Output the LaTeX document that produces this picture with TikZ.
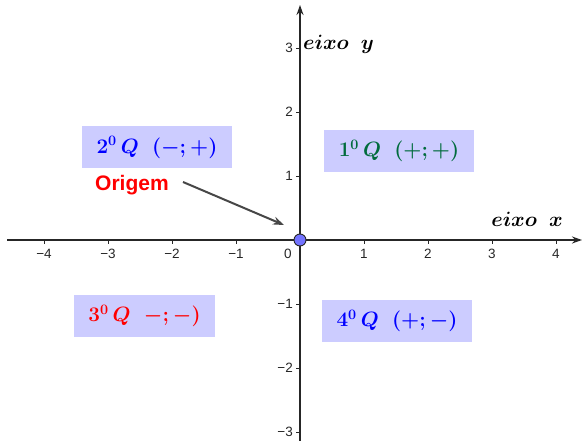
\documentclass[tikz,border=0pt]{standalone}
\usepackage{fontspec}
\setsansfont{Liberation Sans}
\usetikzlibrary{arrows.meta}
\definecolor{boxfill}{HTML}{CCCCFF}
\definecolor{qgreen}{HTML}{006B3C}
\definecolor{qblue}{HTML}{0000FF}
\definecolor{qred}{HTML}{FF0000}
\definecolor{axisgray}{HTML}{262626}
\begin{document}
\begin{tikzpicture}[x=1pt,y=-1pt,
  quadbox/.style={fill=boxfill, inner sep=0pt, minimum height=42pt, anchor=center, font=\fontsize{22}{25}\selectfont\boldmath},
  ticklab/.style={font=\sffamily\fontsize{13.5}{15}\selectfont, text=axisgray, inner sep=1pt},
  axislab/.style={font=\fontsize{20}{24}\selectfont\boldmath, inner sep=0pt}]
\useasboundingbox (0,0) rectangle (582,441);
\fill[white] (0,0) rectangle (582,441);
% axes
\coordinate (xs) at (7,240);
\coordinate (xe) at (582,240);
\coordinate (ys) at (300,441);
\coordinate (ye) at (300,5);
\draw[axisgray, line width=1.6pt, -{Stealth[length=10pt,width=7pt]}] (xs) -- (xe);
\draw[axisgray, line width=1.6pt, -{Stealth[length=10pt,width=7pt]}] (ys) -- (ye);
% x ticks
\foreach \i in {-4,-3,-2,-1,1,2,3,4}{
  \draw[axisgray, line width=0.8pt] ({300+64*\i},240) -- ({300+64*\i},244);
  \node[ticklab] (xl\i) at ({300+64*\i},254) {\ifnum\i<0 −\the\numexpr-\i\relax\else\i\fi};
}
\node[ticklab] (x0) at (288,254) {0};
% y ticks
\foreach \i in {-3,-2,-1,1,2,3}{
  \draw[axisgray, line width=0.8pt] (296,{240-64*\i}) -- (300,{240-64*\i});
  \node[ticklab, anchor=east] (yl\i) at (294,{240-64*\i}) {\ifnum\i<0 −\the\numexpr-\i\relax\else\i\fi};
}
% axis labels
\node[axislab, anchor=west] (ey) at (303,44) {$eixo\ \ y$};
\node[axislab, anchor=east] (ex) at (563,219) {$eixo\ \ x$};
% quadrant boxes
\node[quadbox, minimum width=150pt, text=qgreen] (q1) at (399,151) {$1^0\,Q\ \ (+;+)$};
\node[quadbox, minimum width=150pt, text=qblue] (q2) at (157,147.5) {$2^0\,Q\ \ (-;+)$};
\node[quadbox, minimum width=141pt, text=qred] (q3) at (144.5,316) {$3^0\,Q\ \ -;-)$};
\node[quadbox, minimum width=150pt, text=qblue] (q4) at (397,321) {$4^0\,Q\ \ (+;-)$};
% origin
\node[font=\sffamily\bfseries\fontsize{21}{24}\selectfont, text=qred, inner sep=0pt] (orig) at (132,185) {Origem};
\coordinate (atip) at (284,225);
\coordinate (astart) at (183,182);
\draw[axisgray!85, line width=2pt, -{Stealth[length=11pt,width=8pt]}] (astart) -- (atip);
\node[circle, fill=qblue!55, draw=axisgray, line width=0.9pt, minimum size=12pt, inner sep=0pt] (O) at (300,240) {};
\end{tikzpicture}
\end{document}
